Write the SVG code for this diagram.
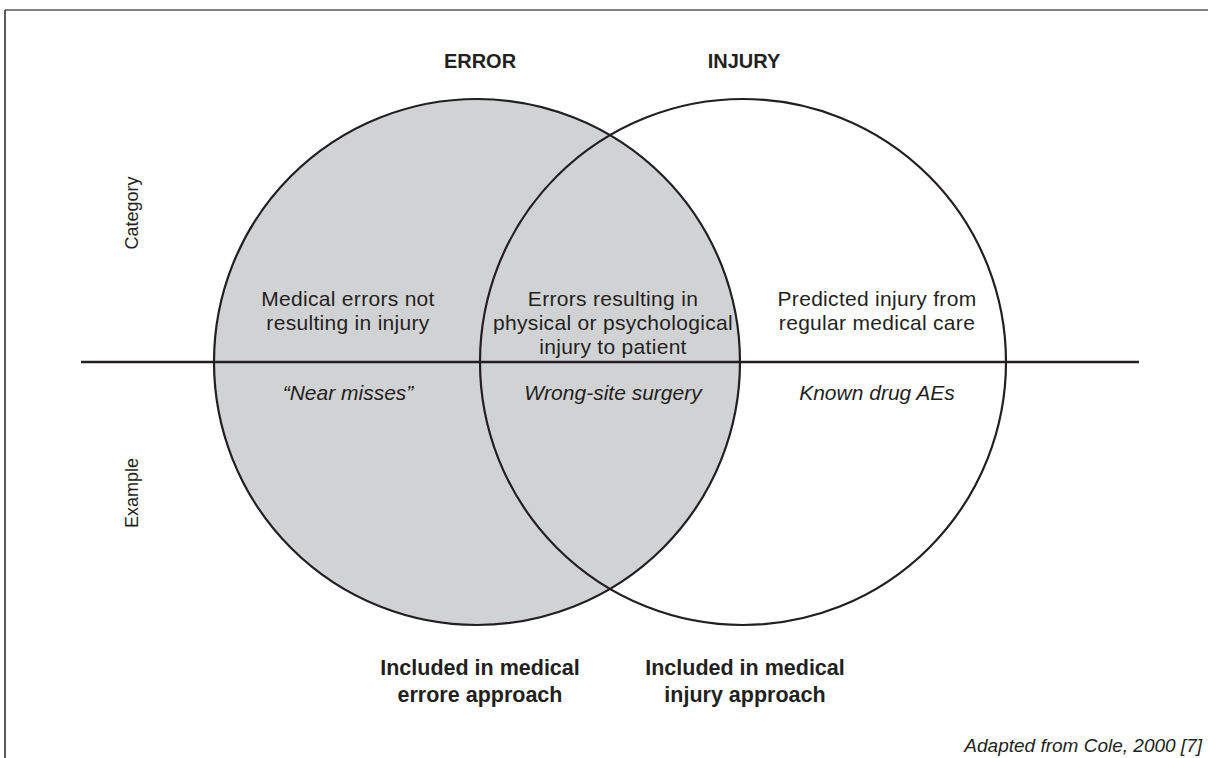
<svg xmlns="http://www.w3.org/2000/svg" width="1208" height="758" viewBox="0 0 1208 758">
  <style>
    .ink { fill: #231f20; font-family: "Liberation Sans", Arial, sans-serif; }
    .body { font-size: 21px; letter-spacing: 0.3px; text-anchor: middle; }
    .ital { font-size: 21px; font-style: italic; text-anchor: middle; }
    .head { font-size: 20px; font-weight: bold; text-anchor: middle; }
    .foot { font-size: 21.5px; font-weight: bold; text-anchor: middle; }
    .axis { font-size: 18px; text-anchor: middle; }
    .ring { fill: none; stroke: #231f20; stroke-width: 2.2; }
    .rule { stroke: #231f20; stroke-width: 2.4; fill: none; }
  </style>

  <rect x="0" y="0" width="1208" height="758" fill="#ffffff"/>

  <!-- frame -->
  <g id="frame">
    <line x1="5" y1="10" x2="1208" y2="10" stroke="#555" stroke-width="1.6"/>
    <line x1="5" y1="10" x2="5" y2="758" stroke="#333" stroke-width="1.6"/>
  </g>

  <!-- shaded error set -->
  <circle cx="477" cy="362" r="263" fill="#d1d2d4"/>

  <g id="connectors">
    <line class="rule" x1="81" y1="362" x2="1139" y2="362"/>
  </g>

  <g id="error-set">
    <circle class="ring" cx="477" cy="362" r="263"/>
    <text class="ink head" x="480" y="68">ERROR</text>
  </g>
  <g id="injury-set">
    <circle class="ring" cx="743" cy="362" r="263"/>
    <text class="ink head" x="744" y="68">INJURY</text>
  </g>

  <g id="axis-labels">
    <text class="ink axis" transform="translate(138 213) rotate(-90)">Category</text>
    <text class="ink axis" transform="translate(138 493) rotate(-90)">Example</text>
  </g>

  <g id="error-only">
    <text class="ink body" x="348" y="306">Medical errors not</text>
    <text class="ink body" x="348" y="330">resulting in injury</text>
    <text class="ink ital" x="348" y="400">“Near misses”</text>
  </g>

  <g id="overlap">
    <text class="ink body" x="613" y="306">Errors resulting in</text>
    <text class="ink body" x="613" y="330">physical or psychological</text>
    <text class="ink body" x="613" y="354">injury to patient</text>
    <text class="ink ital" x="613" y="400">Wrong-site surgery</text>
  </g>

  <g id="injury-only">
    <text class="ink body" x="877" y="306">Predicted injury from</text>
    <text class="ink body" x="877" y="330">regular medical care</text>
    <text class="ink ital" x="877" y="400">Known drug AEs</text>
  </g>

  <g id="error-approach">
    <text class="ink foot" x="480" y="675">Included in medical</text>
    <text class="ink foot" x="480" y="702">errore approach</text>
  </g>
  <g id="injury-approach">
    <text class="ink foot" x="745" y="675">Included in medical</text>
    <text class="ink foot" x="745" y="702">injury approach</text>
  </g>

  <text class="ink" x="1202" y="752" font-size="19" font-style="italic" text-anchor="end">Adapted from Cole, 2000 [7]</text>
</svg>
